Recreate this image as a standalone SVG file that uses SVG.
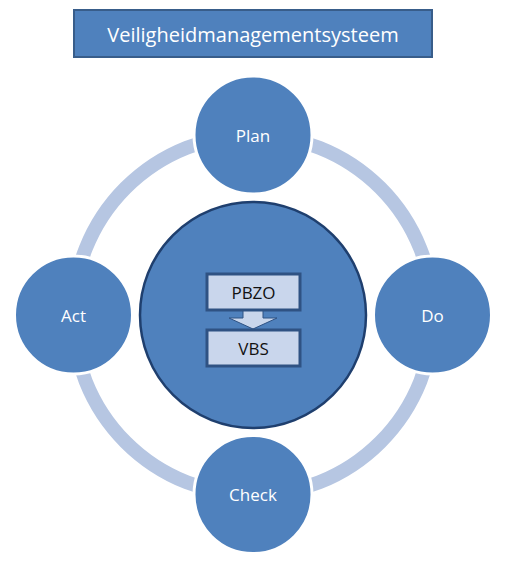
<svg xmlns="http://www.w3.org/2000/svg" width="508" height="561" viewBox="0 0 508 561">
<style>
.node{fill:#4f81bd;stroke:#ffffff;stroke-width:3}
.lbl{font-family:"Open Sans","Liberation Sans",sans-serif;font-size:17px;fill:#ffffff;text-anchor:middle;dominant-baseline:central}
.box{fill:#c9d6ec;stroke:#2f5283;stroke-width:3}
.blbl{font-family:"Open Sans","Liberation Sans",sans-serif;font-size:17px;fill:#111111;text-anchor:middle;dominant-baseline:central}
</style>
<rect width="508" height="561" fill="#ffffff"/>
<g id="connectors">
<circle cx="253" cy="315" r="180" fill="none" stroke="#b6c6e2" stroke-width="14"/>
</g>
<g id="title">
<rect x="74" y="10" width="358" height="47" fill="#4f81bd" stroke="#385d8a" stroke-width="2"/>
<text x="253" y="34" class="lbl" style="font-size:20px">Veiligheidmanagementsysteem</text>
</g>
<g id="center">
<circle cx="253" cy="315" r="113" fill="#4f81bd" stroke="#1f3f6e" stroke-width="2.5"/>
</g>
<g id="pbzo">
<rect x="207" y="274" width="93" height="36" class="box"/>
<text x="253.5" y="292" class="blbl">PBZO</text>
</g>
<g id="arrow">
<path d="M243,311 L263,311 L263,318 L277,318 L253,329 L229,318 L243,318 Z" fill="#c9d6ec" stroke="#2f5283" stroke-width="1"/>
</g>
<g id="vbs">
<rect x="207" y="330" width="93" height="36" class="box"/>
<text x="253.5" y="348" class="blbl">VBS</text>
</g>
<g id="plan">
<circle cx="253" cy="135" r="59" class="node"/>
<text x="253" y="135" class="lbl">Plan</text>
</g>
<g id="do">
<circle cx="432.5" cy="315" r="59" class="node"/>
<text x="432.5" y="315" class="lbl">Do</text>
</g>
<g id="check">
<circle cx="253" cy="494.5" r="59" class="node"/>
<text x="253" y="494.5" class="lbl">Check</text>
</g>
<g id="act">
<circle cx="73.5" cy="315" r="59" class="node"/>
<text x="73.5" y="315" class="lbl">Act</text>
</g>
</svg>
